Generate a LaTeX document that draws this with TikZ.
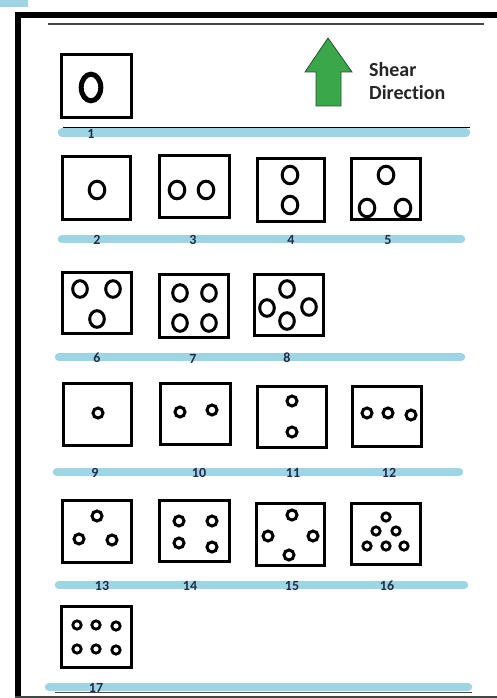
\documentclass[tikz,border=0pt]{standalone}
\usepackage{fontspec}
\setmainfont{Carlito}[Ligatures={NoCommon}]
\definecolor{barblue}{RGB}{158,213,229}
\definecolor{arrowgreen}{RGB}{58,168,74}
\definecolor{arrowedge}{RGB}{40,80,45}
\definecolor{labelnavy}{RGB}{30,45,75}
\definecolor{rulegray}{RGB}{70,70,70}
\tikzset{
  cell/.style={draw=black, line width=3.4pt, inner sep=0pt, outer sep=0pt},
  bar/.style={barblue, line width=8.5pt, line cap=round},
  numlabel/.style={font=\bfseries\fontsize{14}{14}\selectfont, text=labelnavy, inner sep=0pt},
  ring/.style={draw=black, line width=3pt},
  shearlabel/.style={font=\bfseries\fontsize{20}{22}\selectfont, text=black!85, inner sep=0pt, anchor=base west}
}
\begin{document}
\begin{tikzpicture}[x=1pt, y=-1pt]
\useasboundingbox (0,0) rectangle (497,698);
\fill[white] (0,0) rectangle (497,698);
% corner mark
\fill[barblue] (0,0) rectangle (28,7);
% outer frame
\draw[line width=6pt, line join=miter] (18,698) -- (18,15) -- (497,15);
\draw[rulegray, line width=1.5pt] (15,697) -- (497,697);
\coordinate (tl) at (48,24);
\coordinate (tr) at (484,24);
\draw[rulegray, line width=1.5pt] (tl) -- (tr);

% bars
\coordinate (r1a) at (62,132.5); \coordinate (r1b) at (466,132.5);
\coordinate (r2a) at (62,239);   \coordinate (r2b) at (461,239);
\coordinate (r3a) at (59,357);   \coordinate (r3b) at (461,357);
\coordinate (r4a) at (57,472);   \coordinate (r4b) at (459,472);
\coordinate (r5a) at (59,585);   \coordinate (r5b) at (464,585);
\coordinate (r6a) at (49,687);   \coordinate (r6b) at (468,687);
\foreach \r in {1,...,6} \draw[bar] (r\r a) -- (r\r b);
\coordinate (l1a) at (63,127.5); \coordinate (l1b) at (470,127.5);
\draw[black, line width=1.2pt] (l1a) -- (l1b);
\coordinate (l6a) at (55,692.5); \coordinate (l6b) at (472,692.5);
\draw[rulegray, line width=1.5pt] (l6a) -- (l6b);

% boxes
\foreach \n/\xa/\xb/\ya/\yb in {
  1/60/133/53/119, 2/61/132/155/221, 3/158/231/154/219, 4/256/326/157/223, 5/350/422/157/221,
  6/61/133/271/335, 7/158/230/273/339, 8/253/325/273/337,
  9/62/133/382/447, 10/159/232/382/446, 11/256/328/385/449, 12/351/423/385/448,
  13/61/133/499/564, 14/158/231/499/563, 15/255/326/502/567, 16/350/422/502/566,
  17/60/133/605/669}
  \node[cell, minimum width={(\xb-\xa-3.4)*1pt}, minimum height={(\yb-\ya-3.4)*1pt}]
    (b\n) at ({(\xa+\xb)/2},{(\ya+\yb)/2}) {};

% labels
\foreach \n/\x/\y in {
  1/91/134, 2/97/240, 3/193/240, 4/291/240, 5/388/240,
  6/97/358, 7/193/359, 8/287/358,
  9/95/473, 10/199/473, 11/293/473, 12/389/473,
  13/102/586, 14/190/586, 15/292/586, 16/387/586, 17/96/688}
  \node[numlabel] (n\n) at (\x,\y) {\n};

% circles
\draw[ring, line width=5pt] (91,87.5) ellipse [x radius=9.8, y radius=13.3];
\foreach \p in {(97,190),(177,190),(206,190),(290,175),(290,205),(386,175),(367,208),(403,208)}
  \draw[ring] \p ellipse [x radius=7.8, y radius=8.8];
\foreach \p in {(80,289),(113,289),(97,319),(180,293),(209,293),(180,323),(209,323),
                (287,289),(267,308),(309,307),(287,321)}
  \draw[ring] \p ellipse [x radius=7.3, y radius=8.3];
\foreach \p in {(98,413),(180,412),(212,410),(292,401),(292,432),(367,413),(388,413),(411,415),
                (97,516),(79,539),(112,540),(179,521),(212,521),(179,543),(212,547),
                (292,515),(268,536),(313,536),(289,555)}
  \draw[ring] \p circle [radius=5];
\foreach \p in {(386,517),(376,531),(396,531),(367,546),(386,546),(404,546),
                (77,625),(96,625),(116,626),(77,649),(96,649),(116,650)}
  \draw[ring, line width=2.8pt] \p circle [radius=4.2];

% shear arrow
\draw[fill=arrowgreen, draw=arrowedge, line width=0.8pt, line join=miter]
  (328,38) -- (352,72) -- (341,72) -- (341,106) -- (316,106) -- (316,72) -- (305,72) -- cycle;
\node[shearlabel] (sh1) at (369,77) {Shear};
\node[shearlabel] (sh2) at (369,100) {Direction};
\end{tikzpicture}
\end{document}
